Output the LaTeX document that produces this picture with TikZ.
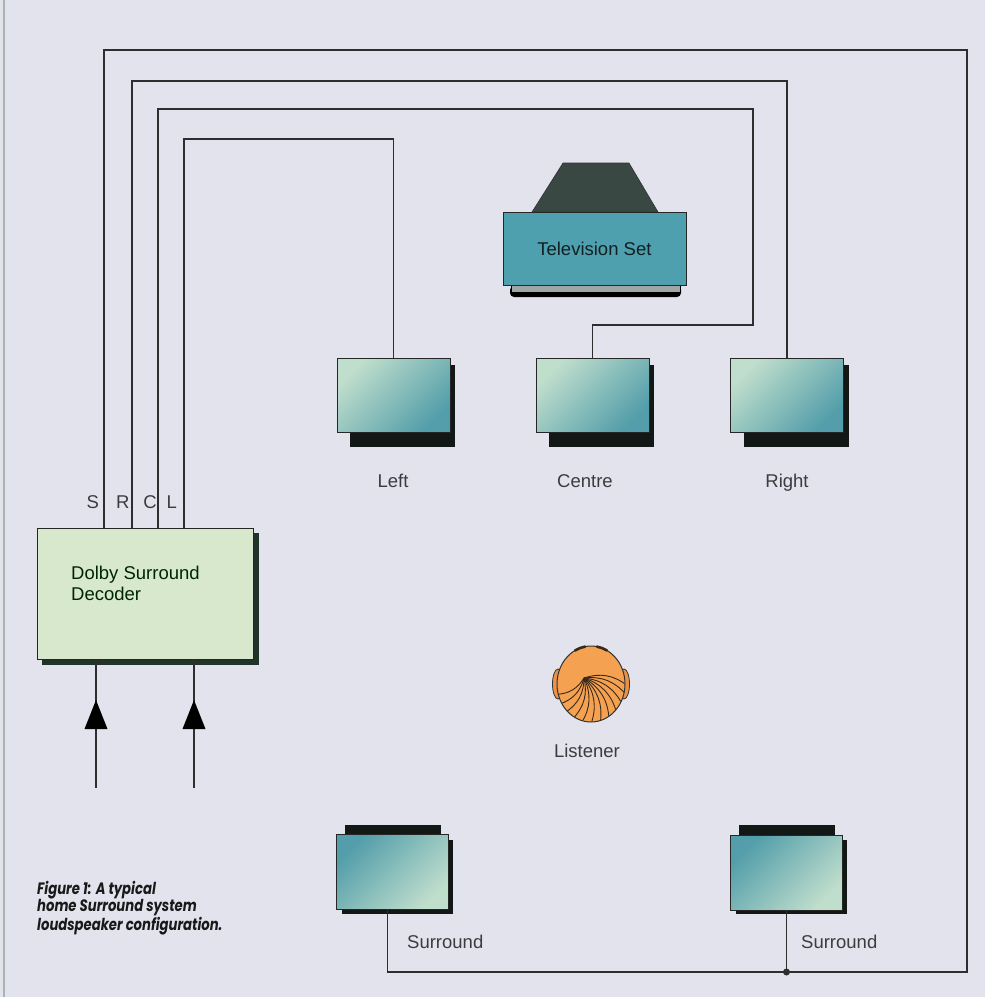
\documentclass[tikz,border=0pt]{standalone}
\usepackage{fontspec}
\setmainfont{Liberation Sans}
\newfontfamily\capfont{Poppins}[FakeStretch=0.8]
\usetikzlibrary{calc}

\definecolor{bg}{HTML}{E3E3EE}
\definecolor{wirec}{HTML}{2E2E30}
\definecolor{decfill}{HTML}{D8E8CC}
\definecolor{decshadow}{HTML}{20342A}
\definecolor{spklight}{HTML}{C0DECC}
\definecolor{spkdark}{HTML}{539EAA}
\definecolor{spkshadow}{HTML}{121816}
\definecolor{tvbody}{HTML}{4FA0AE}
\definecolor{tvtop}{HTML}{3A4843}
\definecolor{tvbase}{HTML}{A0A6A6}
\definecolor{headc}{HTML}{F5A152}
\definecolor{earc}{HTML}{E99248}
\definecolor{hairc}{HTML}{3A2818}
\definecolor{labelc}{HTML}{3A3C3E}
\definecolor{edgec}{HTML}{A9B4AE}

\pgfdeclarelayer{paper}
\pgfdeclarelayer{shade}
\pgfsetlayers{paper,shade,main}

\tikzset{
  wire/.style={draw=wirec, line width=1.3pt},
  lbl/.style={text=labelc, font=\fontsize{18.5}{21}\selectfont, inner sep=0pt, anchor=base},
  decbox/.style={draw=black!85, line width=1pt, fill=decfill, minimum width=216pt,
    minimum height=131pt, inner sep=0pt, outer sep=0pt},
  spkfront/.style={draw=black!85, line width=1pt, minimum width=113pt, minimum height=74pt,
    inner sep=0pt, outer sep=0pt, top color=spklight, bottom color=spkdark, shading angle=45},
  spkrear/.style={draw=black!85, line width=1pt, minimum width=112pt, minimum height=75pt,
    inner sep=0pt, outer sep=0pt, top color=spkdark, bottom color=spklight, shading angle=45},
  tvbox/.style={draw=black!85, line width=0.8pt, fill=tvbody, minimum width=183pt,
    minimum height=73pt, inner sep=0pt, outer sep=0pt, text=black!80!tvbody,
    font=\fontsize{18.5}{21}\selectfont, text depth=0pt},
  caption/.style={font=\capfont\bfseries\itshape\fontsize{16.5}{17}\selectfont,
    text=black!90, align=left, inner sep=0pt},
  strand/.style={draw=hairc, line width=0.9pt},
}

\begin{document}
\begin{tikzpicture}[x=1pt,y=-1pt]
\useasboundingbox (0,0) rectangle (985,997);
\begin{pgfonlayer}{paper}
  \fill[bg] (0,0) rectangle (985,997);
  \fill[edgec] (3,0) rectangle (5,997);
\end{pgfonlayer}

% decoder
\node[decbox] (dec) at (145,593.5) {};
\node[lbl, text=black!75!green!60!black, align=left, anchor=north west] (dectxt)
  at (71,566) {Dolby Surround\\Decoder};

% loudspeakers
\node[spkfront] (lf) at (393.5,395) {};
\node[spkfront] (ce) at (592.5,395) {};
\node[spkfront] (rt) at (787,395) {};
\node[spkrear]  (sl) at (392.5,872) {};
\node[spkrear]  (sr) at (786.5,872.5) {};

\begin{pgfonlayer}{shade}
  \fill[decshadow] ([shift={(5,5)}]dec.north west) rectangle ([shift={(6,6)}]dec.south east);
  \foreach \s in {lf,ce,rt}
    \fill[spkshadow] ([shift={(13,7)}]\s.north west) rectangle ([shift={(5,15)}]\s.south east);
  \foreach \s in {sl,sr}{
    \fill[spkshadow] ([shift={(5,5)}]\s.north west) rectangle ([shift={(4,4)}]\s.south east);
    \fill[spkshadow] ([shift={(8,-10)}]\s.north west) rectangle ([shift={(-8,0)}]\s.north east);
  }
\end{pgfonlayer}

% speaker wiring from the decoder outputs
\draw[wire] ([xshift=67pt]dec.north west) |- (967,50) -- (967,972) -| ([xshift=-5pt]sl.south);
\draw[wire] ([xshift=95pt]dec.north west) |- (787,81) -- (rt.north);
\draw[wire] ([xshift=121pt]dec.north west) |- (753,109) -- (753,325) -| (ce.north);
\draw[wire] ([xshift=147pt]dec.north west) |- (lf.north |- 0,139) -- (lf.north);
\draw[wire] (sr.south) -- (sr.south |- 0,972) coordinate (junc);
\fill[wirec] (junc) circle (3.5);

% channel letters
\node[lbl] (chS) at (92.7,508.5) {S};
\node[lbl] (chR) at (122.7,508.5) {R};
\node[lbl] (chC) at (150,508.5) {C};
\node[lbl] (chL) at (171.7,508.5) {L};

% inputs
\coordinate (inA) at (96,788);
\coordinate (inB) at (194,788);
\draw[wire] (inA) -- (inA |- dec.south);
\draw[wire] (inB) -- (inB |- dec.south);
\fill[black] ([yshift=88pt]inA) -- ++(11.5,29) -- ++(-23,0) -- cycle;
\fill[black] ([yshift=88pt]inB) -- ++(11.5,29) -- ++(-23,0) -- cycle;

% television
\fill[black, rounded corners=4pt] (510,286) rectangle (681,297);
\draw[fill=tvbase, draw=black, line width=0.6pt] (511,284) rectangle (680,292);
\draw[fill=tvtop, draw=black!80, line width=0.6pt] (563,163) -- (629,163) -- (658,212) -- (532,212) -- cycle;
\node[tvbox] (tv) at (594.4,248.4) {Television Set};

% speaker labels
\node[lbl] (lfl) at (393,487.5) {Left};
\node[lbl] (cel) at (585,487.5) {Centre};
\node[lbl] (rtl) at (787,487.5) {Right};
\node[lbl, anchor=base west] (sll) at (407,948.5) {Surround};
\node[lbl, anchor=base west] (srl) at (801,948.5) {Surround};

% listener, seen from above
\coordinate (H) at (591,684);
\coordinate (W) at (584,678);
\draw[fill=earc, draw=black!80, line width=0.8pt] ([xshift=-33pt]H) ellipse (5.5 and 15);
\draw[fill=earc, draw=black!80, line width=0.8pt] ([xshift=33pt]H) ellipse (5.5 and 15);
\draw[fill=headc, draw=black!80, line width=1pt] (H) ellipse (34 and 38);
\begin{scope}
  \clip (H) ellipse (33.5 and 37.5);
  \foreach \t in {165,150,135,120,105,90,75,60,45,30,15,2}
    \draw[strand] (W) to[bend left=28] ($(H)+({36*cos(\t)},{40*sin(\t)})$);
\end{scope}
\draw[hairc, line width=2.6pt, line cap=round] ($(H)+({34*cos(-118)},{38*sin(-118)})$)
  arc[start angle=-118, end angle=-100, x radius=34, y radius=38];
\draw[hairc, line width=2.6pt, line cap=round] ($(H)+({34*cos(-80)},{38*sin(-80)})$)
  arc[start angle=-80, end angle=-62, x radius=34, y radius=38];
\node[lbl] (lis) at (587,757) {Listener};

% caption
\node[caption, anchor=north west] (cap) at (37,881)
  {Figure 1: A typical\\home Surround system\\loudspeaker configuration.};
\end{tikzpicture}
\end{document}
